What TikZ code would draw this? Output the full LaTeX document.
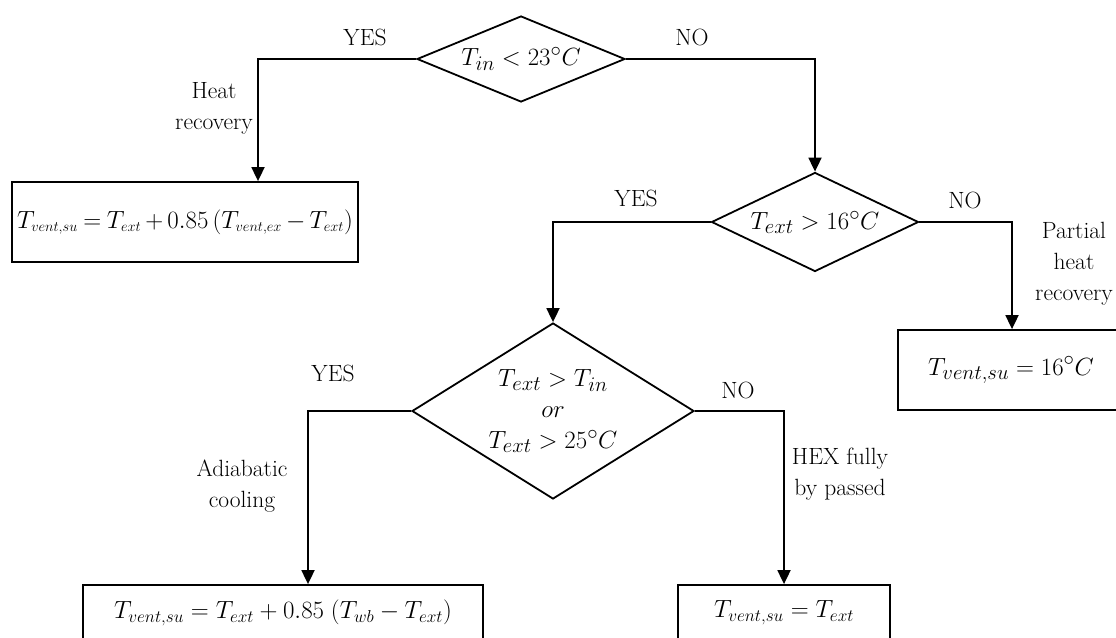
\documentclass[tikz,border=0pt]{standalone}
\usetikzlibrary{shapes.geometric,arrows.meta}
\DeclareMathSizes{23}{23}{13.5}{10}
\newcommand\mathsz{\fontsize{28.5}{31}\selectfont}
\newcommand\lblsz{\fontsize{23.5}{31}\selectfont}
\tikzset{
  dia/.style={draw, diamond, line width=1.8pt, inner sep=0pt, font=\mathsz},
  box/.style={draw, rectangle, line width=1.8pt, minimum height=80pt, inner sep=0pt, font=\mathsz},
  lbl/.style={font=\lblsz, align=center, inner sep=0pt},
  conn/.style={line width=1.8pt, -{Triangle[length=14pt,width=13pt]}},
}
\begin{document}
\begin{tikzpicture}[x=1pt,y=-1pt]
\clip (0,0) rectangle (1116,637);
% decisions
\node[dia, aspect=2.42, minimum width=208pt, minimum height=86pt] (d1) at (521,59) {$T_{in} < 23^{\circ}C$};
\node[dia, aspect=2.09, minimum width=207pt, minimum height=99pt] (d2) at (815,222) {$T_{ext} > 16^{\circ}C$};
\node[dia, aspect=1.6, minimum width=282pt, minimum height=176pt, align=center] (d3) at (553,411) {$T_{ext} > T_{in}$\\$or$\\$T_{ext} > 25^{\circ}C$};
% results
\node[box, minimum width=346pt, font=\fontsize{23}{28}\selectfont] (b1) at (185,222) {\medmuskip=3mu\thickmuskip=4mu$T_{vent,su} = T_{ext} + 0.85\,(T_{vent,ex} - T_{ext})$};
\node[box, minimum width=226pt] (b2) at (1011,370) {$T_{vent,su} = 16^{\circ}C$};
\node[box, minimum width=400pt, minimum height=56pt, font=\fontsize{26.5}{31}\selectfont] (b3) at (283,613) {$T_{vent,su} = T_{ext} + 0.85\;(T_{wb} - T_{ext})$};
\node[box, minimum width=212pt, minimum height=56pt, font=\fontsize{26}{31}\selectfont] (b4) at (784,613) {$T_{vent,su} = T_{ext}$};
% connectors
\coordinate (c1) at (258,59);
\draw[conn] (d1.west) -- (c1) -- (c1 |- b1.north);
\draw[conn] (d1.east) -| (d2.north);
\draw[conn] (d2.west) -| (d3.north);
\coordinate (c2) at (1012,222);
\draw[conn] (d2.east) -- (c2) -- (c2 |- b2.north);
\coordinate (c3) at (308,411);
\draw[conn] (d3.west) -- (c3) -- (c3 |- b3.north);
\draw[conn] (d3.east) -| (b4.north);
% labels
\node[lbl] (yes1) at (365,37) {YES};
\node[lbl] (no1) at (692,37) {NO};
\node[lbl] (hr) at (214,108) {Heat\\recovery};
\node[lbl] (yes2) at (636,198) {YES};
\node[lbl] (no2) at (965,200) {NO};
\node[lbl] (phr) at (1074,264) {Partial\\heat\\recovery};
\node[lbl] (yes3) at (333,373) {YES};
\node[lbl] (no3) at (738,390) {NO};
\node[lbl] (ac) at (242,486) {Adiabatic\\cooling};
\node[lbl] (hex) at (840,474) {HEX fully\\by passed};
\end{tikzpicture}
\end{document}
